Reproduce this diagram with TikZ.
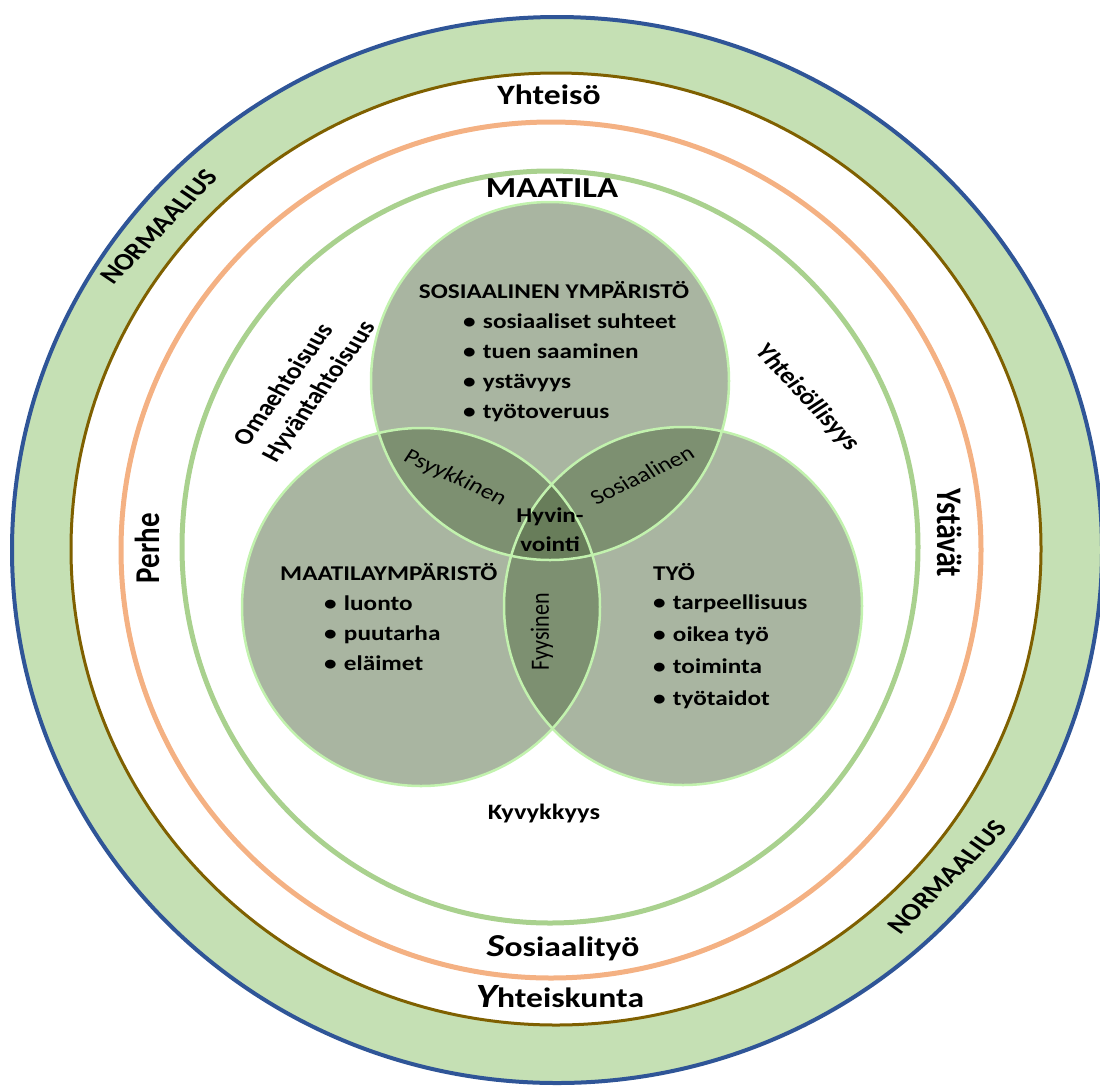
\documentclass[tikz,border=0pt]{standalone}
\usepackage{fontspec}
\setmainfont{Carlito}

\definecolor{ringblue}{HTML}{2F5597}
\definecolor{ringbrown}{HTML}{7F6000}
\definecolor{ringorange}{HTML}{F4B183}
\definecolor{ringgreen}{HTML}{A9D18E}
\definecolor{bandgreen}{HTML}{C5E0B4}
\definecolor{vennfill}{RGB}{83,107,67}
\definecolor{vennline}{HTML}{C2F2AE}

\newcommand{\fsz}[1]{\fontsize{#1}{#1}\selectfont}

\tikzset{
	lbl/.style={font=\bfseries\fsz{#1}, xscale=1.2, inner sep=0pt},
	lbl/.default=21,
	reg/.style={font=\fsz{#1}, xscale=1.2, inner sep=0pt},
	reg/.default=21,
	bullets/.style={font=\bfseries\fontsize{21}{#1}\selectfont, align=left,
		anchor=west, xscale=1.2, inner sep=0pt}
}

\begin{document}
\begin{tikzpicture}[x=1pt, y=-1pt]
	\useasboundingbox (0,0) rectangle (1100,1085);
	% outer band and rings
	\fill[bandgreen, even odd rule] 
		(557,550) ellipse [x radius=545, y radius=533]
		(556,549) ellipse [x radius=485, y radius=476];
	\draw[ringblue, line width=4] (557,550) ellipse [x radius=545, y radius=533];
	\draw[ringbrown, line width=3] (556,549) ellipse [x radius=485, y radius=476];
	\draw[ringorange, line width=5] (551,550) ellipse [x radius=430, y radius=428];
	\draw[ringgreen, line width=5] (550,547) ellipse [x radius=368, y radius=376];
	% venn
	\foreach \p in {(550,381), (421,607), (683,606)}
		\fill[vennfill, fill opacity=0.5] \p circle (179);
	\foreach \p in {(550,381), (421,607), (683,606)}
		\draw[vennline, line width=2.5] \p circle (179);

	\node[lbl=28, anchor=base] (yhteiso) at (549,104) {Yhteisö};
	\node[lbl=29, anchor=base] (maatila) at (552,197) {MAATILA};
	\node[lbl=28, anchor=base] (sostyo) at (563,956) {{\itshape\fsz{32}S}osiaalityö};
	\node[lbl=28, anchor=base] (yhtkunta) at (560,1007) {{\itshape\fsz{34}Y}hteiskunta};
	\node[lbl=29, rotate=90] (perhe) at (147,548) {Perhe};
	\node[lbl=30, rotate=-90] (ystavat) at (950,533) {Ystävät};
	\node[lbl=24, rotate=51] (normtop) at (159,227) {NORMAALIUS};
	\node[lbl=24, rotate=50] (normbot) at (947,877) {NORMAALIUS};
	\node[lbl=23, rotate=58.5] (omaeh) at (283,384) {Omaehtoisuus};
	\node[lbl=23, rotate=58.5] (hyvan) at (320,392) {Hyväntahtoisuus};
	\node[lbl=23, rotate=-52] (yhtlis) at (807,398) {Yhteisöllisyys};
	\node[lbl=22, anchor=base] (kyvyk) at (544,819) {Kyvykkyys};

	\node[lbl, anchor=base] (sostitle) at (554,298) {SOSIAALINEN YMPÄRISTÖ};
	\node[bullets=30] (soslist) at (463,368) 
		{•\hspace{6pt}sosiaaliset suhteet\\•\hspace{6pt}tuen saaminen\\
		 •\hspace{6pt}ystävyys\\•\hspace{6pt}työtoveruus};
	\node[lbl, anchor=base west] (farmtitle) at (280,580) {MAATILAYMPÄRISTÖ};
	\node[bullets=30] (farmlist) at (324,633) 
		{•\hspace{6pt}luonto\\•\hspace{6pt}puutarha\\•\hspace{6pt}eläimet};
	\node[lbl, anchor=base west] (worktitle) at (653,580) {TYÖ};
	\node[bullets=32] (worklist) at (653,652) 
		{•\hspace{6pt}tarpeellisuus\\•\hspace{6pt}oikea työ\\
		 •\hspace{6pt}toiminta\\•\hspace{6pt}työtaidot};

	\node[reg, rotate=-28.5] (psyk) at (455,478) {Psyykkinen};
	\node[reg, rotate=30] (sosial) at (642,475) {Sosiaalinen};
	\node[reg=22, rotate=90] (fyys) at (542,632) {Fyysinen};
	\node[lbl, align=center, font=\bfseries\fontsize{21}{29}\selectfont] 
		(hyvin) at (550,530) {Hyvin-\\vointi};
\end{tikzpicture}
\end{document}
